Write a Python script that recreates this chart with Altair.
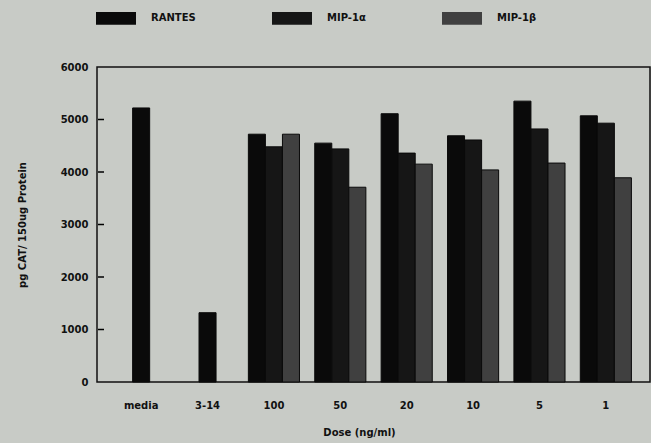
import altair as alt
import pandas as pd

doses = ["media", "3-14", "100", "50", "20", "10", "5", "1"]
series_names = ["RANTES", "MIP-1α", "MIP-1β"]
rantes = [5220, 1320, 4720, 4550, 5110, 4690, 5350, 5070]
mip1a = [None, None, 4480, 4440, 4360, 4610, 4820, 4930]
mip1b = [None, None, 4720, 3710, 4150, 4040, 4170, 3890]
y_ticks = [0, 1000, 2000, 3000, 4000, 5000, 6000]

rows = []
for i, d in enumerate(doses):
    vals = [rantes[i], mip1a[i], mip1b[i]]
    present = [(s, v) for s, v in zip(series_names, vals) if v is not None]
    for s, v in present:
        slot = series_names.index(s) if len(present) == 3 else 1
        rows.append(dict(dose=d, series=s, value=v, slot=slot))
df = pd.DataFrame(rows)

FONT = "DejaVu Sans"
TITLE_Y = "pg CAT/ 150ug Protein"

bars = alt.Chart(df).mark_bar(stroke="#0a0a0a", strokeWidth=1).encode(
    x=alt.X(
        "dose:N",
        sort=doses,
        scale=alt.Scale(paddingInner=0.23, paddingOuter=0.28),
        axis=alt.Axis(
            title="Dose  (ng/ml)",
            labelAngle=0,
            ticks=False,
            tickSize=0,
            domain=False,
            labelPadding=18,
            titlePadding=17,
            titleX=262,
        ),
    ),
    xOffset=alt.XOffset(
        "slot:O", scale=alt.Scale(domain=[0, 1, 2], paddingInner=0, paddingOuter=0)
    ),
    y=alt.Y(
        "value:Q",
        title=TITLE_Y,
        scale=alt.Scale(domain=[0, 6000], nice=False),
        axis=alt.Axis(
            values=y_ticks,
            format="d",
            ticks=False,
            tickSize=0,
            domain=False,
            grid=False,
            labelPadding=9,
            titlePadding=33,
        ),
    ),
    color=alt.Color(
        "series:N",
        scale=alt.Scale(domain=series_names, range=["#0a0a0a", "#161616", "#404040"]),
        legend=alt.Legend(
            title=None,
            orient="none",
            direction="horizontal",
            legendX=-1,
            legendY=-69,
            symbolType="M-1,-0.32H1V0.32H-1Z",
            symbolSize=1600,
            symbolStrokeWidth=0,
            symbolOpacity=1,
            labelOffset=15,
            columnPadding=76,
            labelFont=FONT,
            labelFontSize=10,
            labelFontWeight="bold",
            labelColor="#111111",
        ),
    ),
)

ticks = alt.Chart(pd.DataFrame({"t": y_ticks[1:-1]})).mark_rule(
    color="#000000", strokeWidth=1.5
).encode(
    x=alt.value(1),
    x2=alt.value(7),
    y=alt.Y("t:Q", title=TITLE_Y),
)

chart = (
    alt.layer(bars, ticks)
    .properties(
        width=553,
        height=315,
        autosize=alt.AutoSizeParams(type="none"),
        padding={"left": 97, "top": 67, "right": 1, "bottom": 61},
        background="#c8cbc6",
    )
    .configure_view(stroke="#111111", strokeWidth=1.5)
    .configure_axis(
        labelFont=FONT,
        labelFontSize=10,
        labelFontWeight="bold",
        labelColor="#111111",
        titleFont=FONT,
        titleFontSize=10,
        titleFontWeight="bold",
        titleColor="#111111",
    )
)

chart.save("out.html", embed_options={"renderer": "svg", "actions": False})
